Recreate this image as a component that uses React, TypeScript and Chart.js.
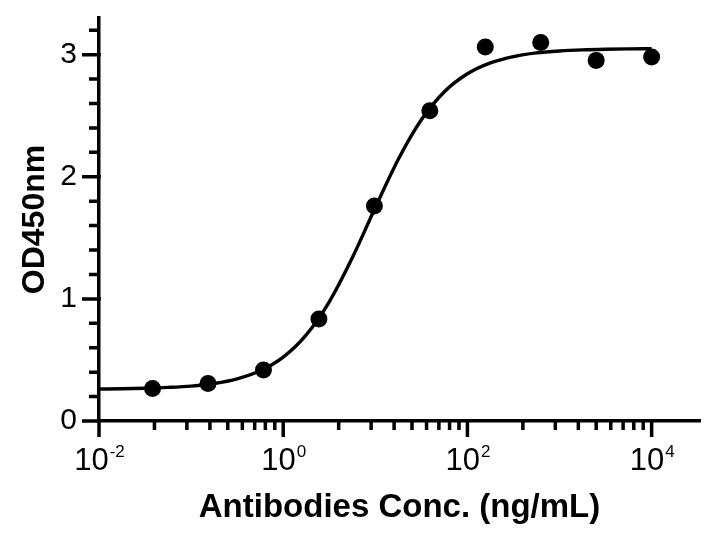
import React, { useEffect, useRef } from "react";
import { Chart, registerables } from "chart.js";

Chart.register(...registerables);

// Measured points (4-fold dilution series, ng/mL)
const concentrations = [0.03815, 0.1526, 0.6104, 2.441, 9.766, 39.06, 156.25, 625, 2500, 10000];
const od450 = [0.266, 0.307, 0.417, 0.836, 1.761, 2.54, 3.063, 3.1, 2.953, 2.98];

// Fitted curve
const fitConc = [
  0.01, 0.01778, 0.03162, 0.05623, 0.1, 0.1778, 0.3162, 0.5623, 1, 1.778, 3.162, 5.623, 10,
  17.78, 31.62, 56.23, 100, 177.8, 316.2, 562.3, 1000, 1778, 3162, 5623, 10000,
];
const fitOd = [
  0.262, 0.264, 0.268, 0.275, 0.286, 0.307, 0.345, 0.411, 0.523, 0.705, 0.976, 1.336, 1.748,
  2.144, 2.467, 2.696, 2.843, 2.932, 2.984, 3.014, 3.03, 3.039, 3.044, 3.047, 3.048,
];

// Axis ticks
const xMajorTicks = [0.01, 1, 100, 10000];
const xTickBase = ["10", "10", "10", "10"];
const xTickExp = ["-2", "0", "2", "4"];
const xMinorTicks = [
  0.04, 0.09, 0.16, 0.25, 0.36, 0.49, 0.64, 0.81,
  4, 9, 16, 25, 36, 49, 64, 81,
  400, 900, 1600, 2500, 3600, 4900, 6400, 8100,
];
const yMajorTicks = [0, 1, 2, 3];
const yMinorTicks = [0.2, 0.4, 0.6, 0.8, 1.2, 1.4, 1.6, 1.8, 2.2, 2.4, 2.6, 2.8, 3.2];

const FONT = '"Liberation Sans", Arial, Helvetica, sans-serif';
const LW = 3.5;

const axisDecor = {
  id: "axisDecor",
  afterDraw(chart: any) {
    const { ctx, chartArea, scales } = chart;
    const x = scales.x;
    const y = scales.y;
    const b = chartArea.bottom;
    const l = chartArea.left;
    ctx.save();
    ctx.strokeStyle = "#000";
    ctx.lineWidth = LW;
    ctx.lineCap = "butt";
    ctx.beginPath();
    xMajorTicks.forEach((v) => {
      const px = x.getPixelForValue(v);
      ctx.moveTo(px, b - LW / 2);
      ctx.lineTo(px, b + 16);
    });
    xMinorTicks.forEach((v) => {
      const px = x.getPixelForValue(v);
      ctx.moveTo(px, b);
      ctx.lineTo(px, b + 9);
    });
    yMajorTicks.forEach((v) => {
      const py = y.getPixelForValue(v);
      ctx.moveTo(l + LW / 2, py);
      ctx.lineTo(l - 17, py);
    });
    yMinorTicks.forEach((v) => {
      const py = y.getPixelForValue(v);
      ctx.moveTo(l, py);
      ctx.lineTo(l - 10, py);
    });
    ctx.stroke();

    ctx.fillStyle = "#000";
    ctx.textBaseline = "alphabetic";
    ctx.textAlign = "left";
    xMajorTicks.forEach((v, i) => {
      const base = xTickBase[i];
      const exp = xTickExp[i];
      ctx.font = `31px ${FONT}`;
      const wb = ctx.measureText(base).width;
      ctx.font = `17px ${FONT}`;
      const we = ctx.measureText(exp).width;
      const px = x.getPixelForValue(v);
      const start = px - (wb + we) / 2;
      ctx.font = `31px ${FONT}`;
      ctx.fillText(base, start, b + 49);
      ctx.font = `17px ${FONT}`;
      ctx.fillText(exp, start + wb + 1, b + 36);
    });
    ctx.restore();
  },
};

export default function App() {
  const canvasRef = useRef<HTMLCanvasElement | null>(null);

  useEffect(() => {
    if (!canvasRef.current) return;
    const chart = new Chart(canvasRef.current, {
      type: "scatter",
      data: {
        datasets: [
          {
            type: "line",
            label: "fit",
            data: fitConc.map((c, i) => ({ x: c, y: fitOd[i] })),
            borderColor: "#000",
            borderWidth: 3.4,
            pointRadius: 0,
            fill: false,
            cubicInterpolationMode: "monotone",
            showLine: true,
            order: 2,
          } as any,
          {
            type: "scatter",
            label: "OD450",
            data: concentrations.map((c, i) => ({ x: c, y: od450[i] })),
            backgroundColor: "#000",
            borderColor: "#000",
            borderWidth: 0,
            pointRadius: 8.5,
            order: 1,
          },
        ],
      },
      options: {
        animation: false,
        responsive: false,
        devicePixelRatio: 1,
        layout: { padding: { top: 18, right: 26, left: 0, bottom: 0 } },
        plugins: {
          legend: { display: false },
          tooltip: { enabled: false },
        },
        scales: {
          x: {
            type: "logarithmic",
            min: 0.01,
            max: 33500,
            position: "bottom",
            grid: { display: false, drawTicks: false },
            border: { display: true, width: LW, color: "#000" },
            ticks: { display: false },
            title: {
              display: true,
              text: "Antibodies Conc. (ng/mL)",
              color: "#000",
              font: { family: FONT, size: 33, weight: "bold" },
              padding: { top: 0, bottom: 5 },
            },
            afterFit(scale: any) {
              scale.height = 112;
              scale.paddingLeft = 0;
              scale.paddingRight = 0;
            },
          },
          y: {
            type: "linear",
            min: 0,
            max: 3.3,
            grid: { display: false, drawTicks: false },
            border: { display: true, width: LW, color: "#000" },
            afterBuildTicks(scale: any) {
              scale.ticks = yMajorTicks.map((v) => ({ value: v }));
            },
            ticks: {
              color: "#000",
              padding: 22,
              font: { family: FONT, size: 30, lineHeight: 1 },
              callback: (v: any) => String(v),
            },
            title: {
              display: true,
              text: "OD450nm",
              color: "#000",
              font: { family: FONT, size: 32, weight: "bold" },
              padding: { top: 16, bottom: 0 },
            },
            afterFit(scale: any) {
              scale.width = 99;
              scale.paddingTop = 0;
              scale.paddingBottom = 0;
            },
          },
        },
      },
      plugins: [axisDecor],
    });
    return () => chart.destroy();
  }, []);

  return (
    <div style={{ position: "fixed", left: 0, top: 0, width: 726, height: 533, background: "#fff" }}>
      <canvas ref={canvasRef} width={726} height={533} style={{ width: 726, height: 533, display: "block" }} />
    </div>
  );
}
